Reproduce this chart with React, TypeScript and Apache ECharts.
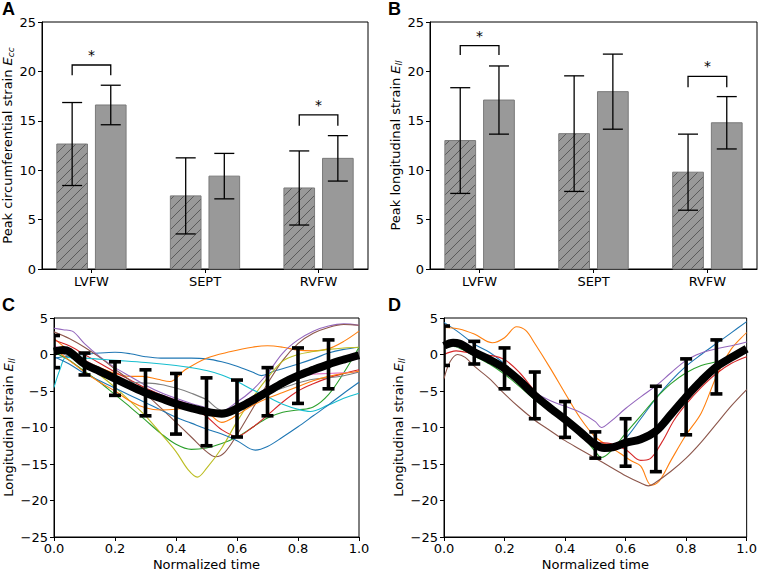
import React, { useEffect, useRef } from 'react';
import * as echarts from 'echarts';

// ---------- DATA ----------
const categories = ['LVFW', 'SEPT', 'RVFW'];
// Panel A: peak circumferential strain
const eccHatched = [12.65, 7.4, 8.2];
const eccHatchedSd = [4.2, 3.85, 3.75];
const eccSolid = [16.6, 9.4, 11.2];
const eccSolidSd = [2.0, 2.3, 2.3];
// Panel B: peak longitudinal strain
const ellHatched = [13.0, 13.7, 9.8];
const ellHatchedSd = [5.35, 5.85, 3.85];
const ellSolid = [17.1, 17.95, 14.8];
const ellSolidSd = [3.45, 3.8, 2.65];
// significance brackets: [category index, bracket level, leg end]
const eccBrackets = [[0, 20.65, 19.6], [2, 15.6, 14.5]];
const ellBrackets = [[0, 22.6, 21.66], [2, 19.5, 18.4]];

const barTicks = [0, 5, 10, 15, 20, 25];
const timeTicks = [0, 0.2, 0.4, 0.6, 0.8, 1.0];
const strainTicks = [-25, -20, -15, -10, -5, 0, 5];

// Panel C individual curves [t, strain]
const cBlue1 = [[0,-0.5],[0.05,-0.2],[0.1,0.0],[0.15,0.2],[0.2,0.3],[0.25,0.1],[0.3,-0.3],[0.35,-0.5],[0.4,-0.5],[0.45,-0.5],[0.5,-0.6],[0.55,-1.0],[0.6,-1.6],[0.65,-2.4],[0.68,-2.9],[0.72,-2.3],[0.8,-1.3],[0.85,-0.6],[0.9,0.2],[0.95,0.7],[1.0,1.0]];
const cOrange1 = [[0,2.2],[0.05,0.5],[0.1,-0.8],[0.15,-1.8],[0.2,-2.6],[0.25,-3.0],[0.29,-3.0],[0.34,-3.4],[0.38,-3.7],[0.43,-2.1],[0.5,-0.5],[0.58,0.4],[0.65,1.0],[0.7,1.2],[0.75,1.0],[0.8,0.6],[0.85,0.5],[0.9,0.8],[0.95,1.8],[1.0,3.2]];
const cGreen = [[0,0.3],[0.05,-0.8],[0.1,-2.3],[0.15,-3.8],[0.2,-5.5],[0.25,-7.2],[0.3,-9.0],[0.35,-10.8],[0.4,-12.3],[0.45,-13.0],[0.5,-12.8],[0.55,-12.2],[0.6,-11.3],[0.65,-10.0],[0.7,-8.7],[0.75,-7.9],[0.8,-7.6],[0.85,-7.2],[0.9,-5.5],[0.95,-2.5],[1.0,1.0]];
const cRed = [[0,2.0],[0.05,1.2],[0.1,0.0],[0.15,-1.2],[0.2,-2.4],[0.25,-3.5],[0.3,-4.6],[0.35,-5.5],[0.4,-6.3],[0.45,-7.2],[0.5,-8.5],[0.55,-10.3],[0.6,-11.2],[0.65,-10.0],[0.7,-8.3],[0.75,-6.5],[0.8,-5.0],[0.85,-4.0],[0.9,-3.2],[0.95,-2.6],[1.0,-2.1]];
const cPurple = [[0,3.6],[0.03,3.4],[0.06,3.2],[0.1,1.5],[0.15,-0.3],[0.2,-1.8],[0.25,-3.0],[0.3,-4.2],[0.35,-5.2],[0.4,-6.0],[0.45,-6.7],[0.5,-7.3],[0.54,-7.9],[0.6,-6.5],[0.65,-4.9],[0.7,-2.6],[0.75,0.2],[0.8,2.0],[0.85,3.2],[0.9,3.9],[0.95,4.2],[1.0,4.0]];
const cBrown = [[0,3.1],[0.05,2.2],[0.1,1.0],[0.15,-0.4],[0.2,-2.0],[0.25,-3.6],[0.3,-5.4],[0.35,-7.3],[0.4,-9.3],[0.45,-11.3],[0.5,-13.3],[0.53,-14.0],[0.56,-13.4],[0.6,-11.0],[0.65,-7.5],[0.7,-4.0],[0.75,-0.8],[0.8,1.5],[0.85,2.9],[0.9,3.7],[0.95,4.1],[1.0,4.0]];
const cPink = [[0,1.2],[0.05,0.3],[0.1,-0.8],[0.15,-1.9],[0.2,-3.0],[0.25,-4.0],[0.3,-4.8],[0.35,-5.5],[0.4,-6.2],[0.45,-6.9],[0.5,-7.6],[0.55,-8.0],[0.6,-7.0],[0.65,-5.8],[0.7,-4.6],[0.75,-3.6],[0.8,-3.0],[0.85,-2.7],[0.9,-2.6],[0.95,-2.5],[1.0,-2.4]];
const cGray = [[0,0.5],[0.05,-0.3],[0.1,-1.4],[0.15,-2.6],[0.2,-3.4],[0.25,-3.8],[0.3,-3.9],[0.35,-4.1],[0.4,-4.6],[0.45,-5.3],[0.5,-6.2],[0.55,-7.6],[0.6,-7.3],[0.65,-6.3],[0.7,-5.4],[0.75,-4.6],[0.8,-3.9],[0.85,-3.4],[0.9,-3.2],[0.95,-2.9],[1.0,-2.4]];
const cOlive = [[0,0.3],[0.05,0.5],[0.1,-1.2],[0.15,-2.8],[0.2,-4.5],[0.25,-6.4],[0.3,-8.4],[0.35,-10.8],[0.4,-13.3],[0.44,-15.8],[0.47,-16.8],[0.5,-15.6],[0.55,-12.8],[0.6,-9.2],[0.65,-6.0],[0.7,-3.2],[0.75,-0.9],[0.8,0.0],[0.85,0.4],[0.9,0.7],[0.95,0.9],[1.0,1.0]];
const cCyan = [[0,-4.5],[0.02,-2.0],[0.04,-0.4],[0.1,-0.5],[0.2,-0.8],[0.3,-1.1],[0.4,-1.5],[0.45,-1.8],[0.5,-2.2],[0.55,-2.8],[0.6,-3.7],[0.65,-4.8],[0.7,-5.8],[0.75,-6.8],[0.8,-7.5],[0.84,-7.8],[0.9,-6.9],[0.95,-6.0],[1.0,-5.3]];
const cBlue2 = [[0,-0.3],[0.05,-1.3],[0.1,-2.6],[0.15,-3.6],[0.2,-4.6],[0.25,-5.6],[0.3,-6.6],[0.35,-7.6],[0.4,-8.6],[0.45,-9.4],[0.5,-10.2],[0.55,-10.9],[0.6,-11.8],[0.66,-13.1],[0.7,-12.6],[0.75,-11.3],[0.8,-9.9],[0.85,-8.4],[0.9,-6.9],[0.95,-5.3],[1.0,-3.8]];
const cOrange2 = [[0,0.8],[0.05,-0.8],[0.1,-2.4],[0.15,-3.8],[0.2,-5.0],[0.25,-6.4],[0.3,-7.3],[0.35,-7.6],[0.4,-7.5],[0.45,-7.2],[0.5,-7.8],[0.55,-9.3],[0.6,-8.3],[0.65,-7.0],[0.7,-6.0],[0.75,-5.2],[0.8,-4.4],[0.85,-3.6],[0.9,-3.0],[0.95,-2.6],[1.0,-2.3]];
const cMean = [[0,0.4],[0.03,0.6],[0.05,0.4],[0.1,-1.3],[0.15,-2.3],[0.2,-3.3],[0.25,-4.3],[0.3,-5.25],[0.35,-6.0],[0.4,-6.75],[0.45,-7.35],[0.5,-7.85],[0.55,-8.1],[0.6,-7.4],[0.65,-6.3],[0.7,-5.1],[0.75,-3.9],[0.8,-2.9],[0.85,-2.1],[0.9,-1.35],[0.95,-0.7],[1.0,-0.1]];
const cErrT = [0, 0.1, 0.2, 0.3, 0.4, 0.5, 0.6, 0.7, 0.8, 0.9];
const cErrMean = [0.4, -1.3, -3.3, -5.25, -6.75, -7.85, -7.4, -5.1, -2.9, -1.35];
const cErrSd = [2.2, 1.5, 2.3, 3.15, 4.15, 4.65, 3.9, 3.3, 3.8, 3.35];

// Panel D individual curves [t, strain]
const dBlue = [[0,4.4],[0.05,3.0],[0.1,1.4],[0.15,0.3],[0.2,-1.3],[0.25,-3.3],[0.3,-5.3],[0.35,-7.0],[0.4,-8.6],[0.45,-10.4],[0.5,-12.3],[0.53,-13.2],[0.56,-12.8],[0.6,-11.5],[0.65,-8.8],[0.7,-6.0],[0.75,-3.6],[0.8,-1.6],[0.85,0.0],[0.9,1.5],[0.95,3.0],[1.0,4.5]];
const dOrange = [[0,3.7],[0.05,3.5],[0.1,2.8],[0.16,1.6],[0.2,2.3],[0.24,3.8],[0.27,3.3],[0.3,1.5],[0.35,-1.8],[0.4,-5.3],[0.45,-8.7],[0.5,-11.3],[0.55,-12.7],[0.58,-13.5],[0.62,-14.6],[0.65,-15.3],[0.685,-17.9],[0.71,-17.4],[0.75,-14.5],[0.8,-11.0],[0.85,-8.0],[0.9,-3.0],[0.95,0.8],[1.0,3.0]];
const dGreen = [[0,1.0],[0.03,1.1],[0.05,0.9],[0.1,-0.2],[0.15,-1.3],[0.2,-2.7],[0.25,-4.4],[0.3,-6.2],[0.35,-7.7],[0.4,-9.1],[0.45,-10.8],[0.5,-13.3],[0.52,-14.1],[0.55,-13.3],[0.6,-10.8],[0.65,-8.4],[0.7,-6.0],[0.75,-4.0],[0.8,-2.5],[0.85,-1.5],[0.9,-1.0],[0.95,-0.5],[1.0,0.3]];
const dRed = [[0,0.0],[0.04,0.5],[0.1,0.1],[0.15,-0.1],[0.2,-0.7],[0.25,-2.5],[0.3,-5.0],[0.35,-7.0],[0.4,-8.8],[0.45,-10.5],[0.5,-12.0],[0.55,-12.2],[0.6,-13.0],[0.65,-14.5],[0.68,-14.3],[0.72,-12.0],[0.76,-9.0],[0.8,-6.8],[0.85,-4.5],[0.9,-2.6],[0.95,-1.2],[1.0,-0.3]];
const dPurple = [[0,1.3],[0.05,1.0],[0.1,0.3],[0.15,-0.8],[0.2,-2.2],[0.25,-3.7],[0.3,-5.2],[0.35,-6.3],[0.4,-7.1],[0.45,-7.9],[0.5,-9.2],[0.52,-10.0],[0.55,-9.2],[0.6,-7.4],[0.65,-5.8],[0.7,-4.3],[0.75,-2.5],[0.8,-0.8],[0.85,0.2],[0.9,0.8],[0.95,1.2],[1.0,1.7]];
const dBrown = [[0,-3.3],[0.02,-1.0],[0.045,0.0],[0.07,-0.4],[0.1,-1.6],[0.15,-3.3],[0.2,-5.4],[0.25,-7.3],[0.3,-9.0],[0.35,-10.4],[0.4,-11.8],[0.45,-13.0],[0.5,-14.2],[0.55,-15.4],[0.6,-16.6],[0.65,-17.6],[0.675,-18.0],[0.7,-17.5],[0.75,-16.0],[0.8,-14.2],[0.85,-12.0],[0.9,-9.5],[0.95,-7.0],[1.0,-4.8]];
const dMean = [[0,1.2],[0.03,1.6],[0.05,1.5],[0.1,0.3],[0.15,-0.7],[0.2,-1.9],[0.25,-3.6],[0.3,-5.6],[0.35,-7.3],[0.4,-8.9],[0.45,-10.6],[0.5,-12.35],[0.53,-12.8],[0.56,-12.7],[0.6,-12.1],[0.65,-11.6],[0.7,-10.5],[0.75,-8.2],[0.8,-5.8],[0.85,-3.6],[0.9,-1.7],[0.95,-0.4],[1.0,0.8]];
const dErrT = [0, 0.1, 0.2, 0.3, 0.4, 0.5, 0.6, 0.7, 0.8, 0.9];
const dErrMean = [1.2, 0.25, -1.9, -5.6, -8.9, -12.4, -12.05, -10.2, -5.8, -1.7];
const dErrSd = [2.7, 1.55, 2.8, 3.2, 2.45, 1.8, 3.25, 5.85, 5.2, 3.7];

const TAB10 = ['#1f77b4', '#ff7f0e', '#2ca02c', '#d62728', '#9467bd', '#8c564b', '#e377c2', '#7f7f7f', '#bcbd22', '#17becf'];
const cCurves = [cBlue1, cOrange1, cGreen, cRed, cPurple, cBrown, cPink, cGray, cOlive, cCyan, cBlue2, cOrange2];
const dCurves = [dBlue, dOrange, dGreen, dRed, dPurple, dBrown];

// ---------- STYLE ----------
const FONT = 'DejaVu Sans';
const BAR_W = 0.27;
const BAR_OFF = 0.17;
const XMIN = -0.4355;
const XMAX = 2.4355;
const HATCH = 10;

const minus = (v: number) => (v < 0 ? '\u2212' + Math.abs(v) : String(v));

function barRender(params: any, api: any) {
  const cat = api.value(0);
  const val = api.value(1);
  const sd = api.value(2);
  const kind = api.value(3);
  const xc = cat + (kind === 0 ? -BAR_OFF : BAR_OFF);
  const p0 = api.coord([xc - BAR_W / 2, val]);
  const p1 = api.coord([xc + BAR_W / 2, 0]);
  const x0 = p0[0], y0 = p0[1], x1 = p1[0], y1 = p1[1];
  const children: any[] = [
    { type: 'rect', shape: { x: x0, y: y0, width: x1 - x0, height: y1 - y0 }, style: { fill: '#999999' } },
  ];
  if (kind === 0) {
    const start = Math.ceil((x0 + y0) / HATCH) * HATCH;
    for (let c = start; c < x1 + y1; c += HATCH) {
      const xa = Math.max(x0, c - y1);
      const xb = Math.min(x1, c - y0);
      if (xb > xa) {
        children.push({
          type: 'line',
          shape: { x1: xa, y1: c - xa, x2: xb, y2: c - xb },
          style: { stroke: '#4a4a4a', lineWidth: 0.8 },
        });
      }
    }
  }
  children.push({
    type: 'rect',
    shape: { x: x0, y: y0, width: x1 - x0, height: y1 - y0 },
    style: { fill: 'none', stroke: '#7a7a7a', lineWidth: 1 },
  });
  const top = api.coord([xc, val + sd]);
  const bot = api.coord([xc, val - sd]);
  const cap = 10;
  const ls = { stroke: '#000', lineWidth: 1.3 };
  children.push({ type: 'line', shape: { x1: top[0], y1: top[1], x2: bot[0], y2: bot[1] }, style: ls });
  children.push({ type: 'line', shape: { x1: top[0] - cap, y1: top[1], x2: top[0] + cap, y2: top[1] }, style: ls });
  children.push({ type: 'line', shape: { x1: bot[0] - cap, y1: bot[1], x2: bot[0] + cap, y2: bot[1] }, style: ls });
  return { type: 'group', children };
}

function bracketRender(params: any, api: any) {
  const cat = api.value(0);
  const level = api.value(1);
  const leg = api.value(2);
  const a = api.coord([cat - BAR_OFF, level]);
  const b = api.coord([cat + BAR_OFF, level]);
  const aLeg = api.coord([cat - BAR_OFF, leg]);
  const bLeg = api.coord([cat + BAR_OFF, leg]);
  return {
    type: 'group',
    children: [
      {
        type: 'polyline',
        shape: { points: [[aLeg[0], aLeg[1]], [a[0], a[1]], [b[0], b[1]], [bLeg[0], bLeg[1]]] },
        style: { stroke: '#000', lineWidth: 1.3, fill: 'none' },
      },
      {
        type: 'text',
        x: (a[0] + b[0]) / 2,
        y: a[1] - 3,
        style: { text: '*', fontFamily: FONT, fontSize: 14, fill: '#000', align: 'center', verticalAlign: 'bottom' },
      },
    ],
  };
}

function errRender(params: any, api: any) {
  const t = api.value(0);
  const m = api.value(1);
  const sd = api.value(2);
  const top = api.coord([t, m + sd]);
  const bot = api.coord([t, m - sd]);
  const cap = 6;
  const ls = { stroke: '#000', lineWidth: 3.6 };
  return {
    type: 'group',
    children: [
      { type: 'line', shape: { x1: top[0], y1: top[1], x2: bot[0], y2: bot[1] }, style: ls },
      { type: 'line', shape: { x1: top[0] - cap, y1: top[1], x2: top[0] + cap, y2: top[1] }, style: ls },
      { type: 'line', shape: { x1: bot[0] - cap, y1: bot[1], x2: bot[0] + cap, y2: bot[1] }, style: ls },
    ],
  };
}

const axisLine = { show: true, onZero: false, lineStyle: { color: '#000', width: 1 } };
const axisTickStyle = { show: true, inside: false, length: 4, lineStyle: { color: '#000', width: 1 } };
const labelBase = { color: '#000', fontFamily: FONT, fontSize: 13 };

function nameStyle() {
  return {
    color: '#000',
    fontFamily: FONT,
    fontSize: 13,
    rich: {
      it: { color: '#000', fontFamily: FONT, fontSize: 13, fontStyle: 'italic' },
      sub: { color: '#000', fontFamily: FONT, fontSize: 9, fontStyle: 'italic', padding: [7, 0, 0, 0] },
    },
  };
}

function barXAxis(gridIndex: number) {
  return {
    gridIndex,
    type: 'value',
    min: XMIN,
    max: XMAX,
    axisLine,
    axisTick: { ...axisTickStyle, customValues: [0, 1, 2] },
    axisLabel: { ...labelBase, margin: 6, customValues: [0, 1, 2], formatter: (v: number) => categories[Math.round(v)] },
    splitLine: { show: false },
  };
}

function barYAxis(gridIndex: number, name: string, nameGap: number) {
  return {
    gridIndex,
    type: 'value',
    min: barTicks[0],
    max: barTicks[barTicks.length - 1],
    interval: 5,
    axisLine,
    axisTick: axisTickStyle,
    axisLabel: { ...labelBase, margin: 6 },
    splitLine: { show: false },
    name,
    nameLocation: 'middle',
    nameRotate: 90,
    nameGap,
    nameTextStyle: nameStyle(),
  };
}

function timeXAxis(gridIndex: number) {
  return {
    gridIndex,
    type: 'value',
    min: timeTicks[0],
    max: timeTicks[timeTicks.length - 1],
    interval: 0.2,
    axisLine,
    axisTick: axisTickStyle,
    axisLabel: { ...labelBase, margin: 5, formatter: (v: number) => v.toFixed(1) },
    splitLine: { show: false },
    name: 'Normalized time',
    nameLocation: 'middle',
    nameGap: 21,
    nameTextStyle: { color: '#000', fontFamily: FONT, fontSize: 13 },
  };
}

function strainYAxis(gridIndex: number, nameGap: number) {
  return {
    gridIndex,
    type: 'value',
    min: strainTicks[0],
    max: strainTicks[strainTicks.length - 1],
    interval: 5,
    axisLine,
    axisTick: axisTickStyle,
    axisLabel: { ...labelBase, margin: 6, formatter: (v: number) => minus(v) },
    splitLine: { show: false },
    name: 'Longitudinal strain {it|E}{sub|ll}',
    nameLocation: 'middle',
    nameRotate: 90,
    nameGap,
    nameTextStyle: nameStyle(),
  };
}

function barData(h: number[], hs: number[], s: number[], ss: number[]) {
  const out: number[][] = [];
  for (let i = 0; i < categories.length; i++) {
    out.push([i, h[i], hs[i], 0]);
    out.push([i, s[i], ss[i], 1]);
  }
  return out;
}

function errData(t: number[], m: number[], sd: number[]) {
  return t.map((v, i) => [v, m[i], sd[i]]);
}

function buildOption() {
  const series: any[] = [];
  series.push({
    type: 'custom', xAxisIndex: 0, yAxisIndex: 0, renderItem: barRender,
    data: barData(eccHatched, eccHatchedSd, eccSolid, eccSolidSd),
  });
  series.push({ type: 'custom', xAxisIndex: 0, yAxisIndex: 0, renderItem: bracketRender, data: eccBrackets });
  series.push({
    type: 'custom', xAxisIndex: 1, yAxisIndex: 1, renderItem: barRender,
    data: barData(ellHatched, ellHatchedSd, ellSolid, ellSolidSd),
  });
  series.push({ type: 'custom', xAxisIndex: 1, yAxisIndex: 1, renderItem: bracketRender, data: ellBrackets });

  const addLines = (curves: number[][][], xi: number, mean: number[][], err: number[][]) => {
    curves.forEach((c, i) => {
      series.push({
        type: 'line', xAxisIndex: xi, yAxisIndex: xi, data: c, smooth: 0.35, showSymbol: false,
        lineStyle: { color: TAB10[i % 10], width: 1.1 }, clip: true, z: 2,
      });
    });
    series.push({
      type: 'line', xAxisIndex: xi, yAxisIndex: xi, data: mean, smooth: 0.35, showSymbol: false,
      lineStyle: { color: '#000', width: 8 }, clip: true, z: 3,
    });
    series.push({ type: 'custom', xAxisIndex: xi, yAxisIndex: xi, renderItem: errRender, data: err, clip: true, z: 4 });
  };
  addLines(cCurves, 2, cMean, errData(cErrT, cErrMean, cErrSd));
  addLines(dCurves, 3, dMean, errData(dErrT, dErrMean, dErrSd));

  const gridBase = { show: true, borderColor: '#000', borderWidth: 1, backgroundColor: 'transparent', containLabel: false };
  const letter = (text: string, x: number, y: number) => ({
    type: 'text', left: x, top: y,
    style: { text, fontFamily: 'Liberation Sans', fontWeight: 'bold', fontSize: 18, fill: '#000' },
  });

  return {
    animation: false,
    backgroundColor: '#fff',
    textStyle: { fontFamily: FONT, color: '#000' },
    grid: [
      { ...gridBase, left: 42, top: 22, width: 326, height: 247 },
      { ...gridBase, left: 430, top: 22, width: 327, height: 247 },
      { ...gridBase, left: 54, top: 318, width: 305, height: 219 },
      { ...gridBase, left: 444, top: 318, width: 305, height: 219 },
    ],
    xAxis: [barXAxis(0), barXAxis(1), timeXAxis(2), timeXAxis(3)],
    yAxis: [
      barYAxis(0, 'Peak circumferential strain {it|E}{sub|cc}', 26),
      barYAxis(1, 'Peak longitudinal strain {it|E}{sub|ll}', 26),
      strainYAxis(2, 38),
      strainYAxis(3, 38),
    ],
    graphic: [letter('A', 2, 0), letter('B', 388, 0), letter('C', 2, 296), letter('D', 388, 296)],
    series,
  };
}

export default function App() {
  const ref = useRef<HTMLDivElement>(null);
  useEffect(() => {
    if (!ref.current) return;
    const chart = echarts.init(ref.current, undefined, { renderer: 'svg' });
    chart.setOption(buildOption() as any);
    return () => chart.dispose();
  }, []);
  return (
    <div
      ref={ref}
      style={{ position: 'absolute', left: 0, top: 0, width: 760, height: 572, background: '#fff' }}
    />
  );
}
